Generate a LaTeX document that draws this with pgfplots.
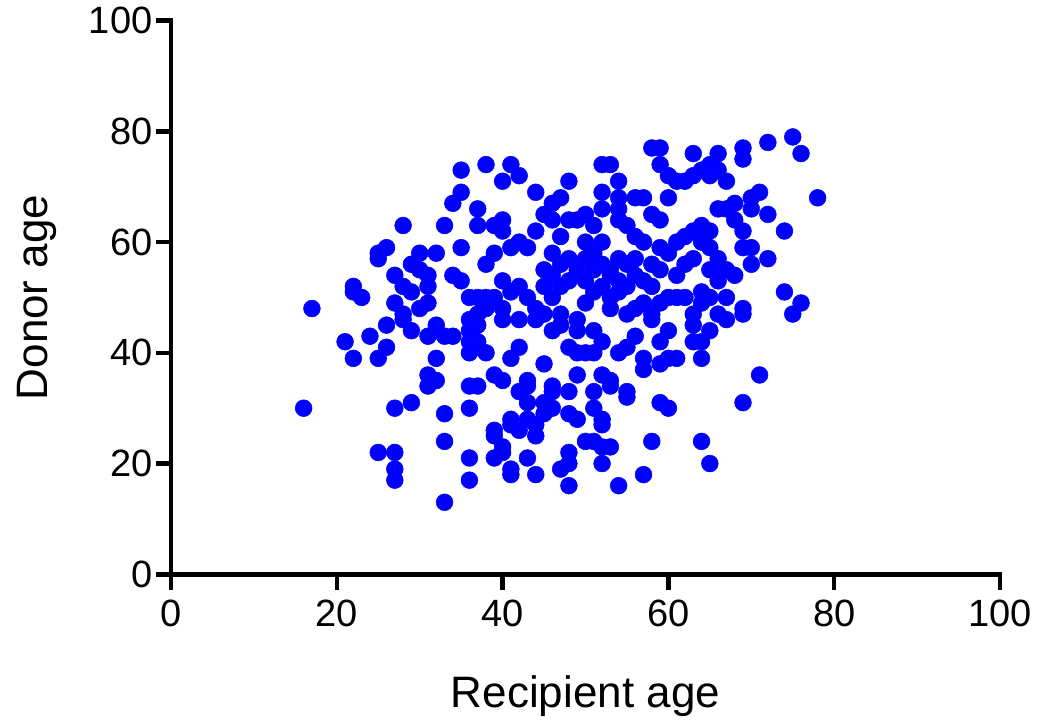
\documentclass[border=0pt]{standalone}
\usepackage{pgfplots}
\pgfplotsset{compat=1.18}
\usepackage{fontspec}
\setmainfont{Liberation Sans}
\begin{document}
\begin{tikzpicture}
\begin{axis}[
  name=ax,
  width=621.75pt, height=415.2pt, scale only axis,
  xmin=0, xmax=100, ymin=0, ymax=100,
  axis lines*=left,
  axis line style={line width=3.4pt, line cap=rect},
  every tick/.style={line width=3.4pt, black},
  tick align=outside, major tick length=11.5pt,
  xtick={0,20,...,100}, ytick={0,20,...,100},
  /pgf/number format/assume math mode=true,
  tick label style={font=\fontsize{28.5}{28.5}\selectfont},
  xticklabel style={yshift=-4pt},
  yticklabel style={xshift=1pt},
  label style={font=\fontsize{33}{33}\selectfont},
  xlabel={Recipient age}, ylabel={Donor age},
  xlabel style={at={(axis description cs:0.5,-0.2206)}, anchor=center},
  ylabel style={at={(axis description cs:-0.1616,0.5)}, anchor=center},
  clip=false,
]
\addplot[only marks, mark=*, mark size=6.3pt, blue, mark options={draw=blue, fill=blue}] coordinates {
(16,30) (17,48) (21,42) (22,52) (22,51) (22,39) (23,50) (24,43) (25,58) (25,57) (25,39) (25,22)
(26,59) (26,45) (26,41) (27,54) (27,49) (27,30) (27,22) (27,19) (27,17) (28,63) (28,52) (28,47)
(28,46) (29,56) (29,51) (29,44) (29,31) (30,58) (30,55) (30,48) (31,54) (31,52) (31,49) (31,43)
(31,36) (31,34) (32,58) (32,45) (32,39) (32,35) (33,63) (33,43) (33,29) (33,24) (33,13) (34,67)
(34,54) (34,43) (35,73) (35,69) (35,59) (35,53) (36,50) (36,46) (36,44) (36,42) (36,40) (36,34)
(36,30) (36,21) (36,17) (37,66) (37,63) (37,50) (37,47) (37,45) (37,42) (37,34) (38,74) (38,56)
(38,50) (38,48) (38,40) (39,63) (39,58) (39,50) (39,36) (39,26) (39,25) (39,21) (40,71) (40,64)
(40,62) (40,53) (40,48) (40,46) (40,35) (40,23) (40,22) (41,74) (41,59) (41,51) (41,39) (41,28)
(41,27) (41,19) (41,18) (42,72) (42,60) (42,52) (42,46) (42,41) (42,33) (42,26) (43,59) (43,50)
(43,35) (43,34) (43,31) (43,28) (43,21) (44,69) (44,62) (44,48) (44,46) (44,27) (44,25) (44,18)
(45,65) (45,55) (45,52) (45,47) (45,38) (45,31) (45,29) (46,67) (46,64) (46,58) (46,54) (46,50)
(46,44) (46,34) (46,33) (46,30) (47,68) (47,61) (47,56) (47,52) (47,47) (47,45) (47,19) (48,71)
(48,64) (48,57) (48,53) (48,41) (48,33) (48,29) (48,22) (48,20) (48,16) (49,64) (49,55) (49,46)
(49,44) (49,40) (49,36) (49,28) (50,65) (50,60) (50,57) (50,53) (50,49) (50,40) (50,24) (51,63)
(51,58) (51,55) (51,51) (51,44) (51,40) (51,33) (51,30) (51,24) (52,74) (52,69) (52,66) (52,60)
(52,56) (52,52) (52,42) (52,36) (52,28) (52,27) (52,23) (52,20) (53,74) (53,55) (53,54) (53,50)
(53,48) (53,35) (53,34) (53,23) (54,71) (54,68) (54,66) (54,64) (54,57) (54,53) (54,51) (54,40)
(54,16) (55,63) (55,56) (55,52) (55,47) (55,41) (55,33) (55,32) (56,68) (56,61) (56,57) (56,54)
(56,48) (56,43) (57,68) (57,60) (57,53) (57,49) (57,39) (57,37) (57,18) (58,77) (58,65) (58,56)
(58,52) (58,47) (58,46) (58,24) (59,77) (59,74) (59,64) (59,59) (59,55) (59,49) (59,42) (59,38)
(59,31) (60,72) (60,68) (60,58) (60,50) (60,44) (60,39) (60,30) (61,71) (61,60) (61,54) (61,50)
(61,39) (62,71) (62,61) (62,56) (62,50) (63,76) (63,72) (63,62) (63,57) (63,47) (63,45) (63,42)
(64,73) (64,63) (64,60) (64,51) (64,49) (64,42) (64,39) (64,24) (65,74) (65,72) (65,62) (65,59)
(65,55) (65,50) (65,44) (65,20) (66,76) (66,73) (66,66) (66,57) (66,53) (66,47) (67,71) (67,66)
(67,55) (67,50) (67,46) (68,67) (68,64) (68,54) (69,77) (69,75) (69,62) (69,59) (69,48) (69,47)
(69,31) (70,68) (70,66) (70,59) (70,56) (71,69) (71,36) (72,78) (72,65) (72,57) (74,62) (74,51)
(75,79) (75,47) (76,76) (76,49) (78,68)
};
\end{axis}
\pgfresetboundingbox
\path ([xshift=-128.25pt,yshift=-112.3pt]ax.south west) rectangle ([xshift=30pt,yshift=15.5pt]ax.north east);
\end{tikzpicture}
\end{document}
